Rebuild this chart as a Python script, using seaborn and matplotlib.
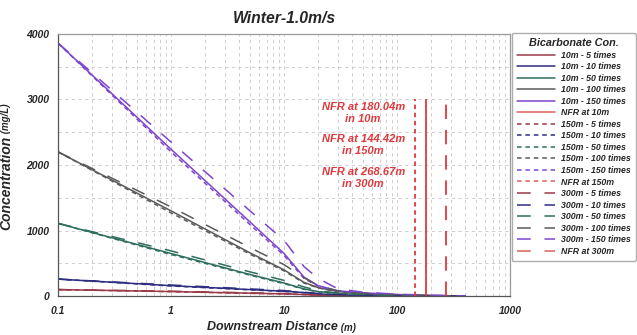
import numpy as np
import pandas as pd
import matplotlib
matplotlib.use("Agg")
import matplotlib.pyplot as plt
import seaborn as sns
from matplotlib.lines import Line2D
from matplotlib.ticker import FixedLocator, NullFormatter, LogLocator

# ---------------- data ----------------
distance = [0.1, 1, 5, 10, 15, 20, 30, 50, 100, 200, 400]

times_labels = ["5 times", "10 times", "50 times", "100 times", "150 times"]

# 10 m (solid)
c10_5 = [100, 70, 45, 35, 25, 15, 8, 5, 3, 2, 1]
c10_10 = [260, 160, 100, 75, 55, 35, 20, 12, 6, 3, 1]
c10_50 = [1110, 650, 330, 200, 110, 70, 40, 25, 12, 5, 2]
c10_100 = [2200, 1300, 660, 400, 210, 130, 70, 40, 20, 8, 3]
c10_150 = [3860, 2240, 1130, 650, 290, 160, 80, 50, 25, 10, 3]

# 150 m (short dashes)
c150_5 = [100, 68, 43, 33, 23, 14, 7, 5, 3, 2, 1]
c150_10 = [260, 155, 96, 72, 52, 33, 19, 11, 6, 3, 1]
c150_50 = [1110, 635, 320, 190, 105, 65, 38, 23, 11, 5, 2]
c150_100 = [2200, 1270, 640, 385, 200, 125, 65, 38, 19, 8, 3]
c150_150 = [3860, 2200, 1090, 620, 270, 150, 75, 45, 22, 9, 3]

# 300 m (long dashes)
c300_5 = [100, 75, 50, 40, 28, 17, 9, 5, 3, 2, 1]
c300_10 = [260, 170, 110, 85, 60, 40, 22, 13, 6, 3, 1]
c300_50 = [1110, 690, 370, 240, 140, 85, 45, 28, 13, 5, 2]
c300_100 = [2200, 1360, 740, 480, 280, 160, 80, 45, 22, 9, 3]
c300_150 = [3860, 2350, 1300, 850, 450, 270, 110, 60, 30, 12, 4]

nfr_distance = [180.04, 144.42, 268.67]   # 10m, 150m, 300m
nfr_top = 3000
nfr_labels = ["NFR at 180.04m\nin 10m", "NFR at 144.42m\nin 150m", "NFR at 268.67m\nin 300m"]
text_y = [2800, 2300, 1800]
text_x = 50

series = {
    "10m": [c10_5, c10_10, c10_50, c10_100, c10_150],
    "150m": [c150_5, c150_10, c150_50, c150_100, c150_150],
    "300m": [c300_5, c300_10, c300_50, c300_100, c300_150],
}

# ---------------- style ----------------
sns.set_style("white")
plt.rcParams["font.family"] = ["Liberation Sans", "DejaVu Sans"]
plt.rcParams["font.weight"] = "bold"
plt.rcParams["font.style"] = "italic"

colors = ["#9a3a48", "#2e2e80", "#2f6e5e", "#5a5a5a", "#7d45cc"]
nfr_color = "#e0383c"
styles = {"10m": "-", "150m": (0, (3, 2.5)), "300m": (0, (9, 9))}
nfr_styles = {"10m": "-", "150m": (0, (2.5, 2)), "300m": (0, (8, 6))}

fig = plt.figure(figsize=(6.37, 3.35), dpi=100)
ax = fig.add_axes([0.091, 0.116, 0.710, 0.783])

handles = {}
for grp, lst in series.items():
    hs = []
    for vals, col, lab in zip(lst, colors, times_labels):
        df = pd.DataFrame({"x": distance, "y": vals})
        sns.lineplot(data=df, x="x", y="y", ax=ax, color=col, linewidth=1.1,
                     linestyle=styles[grp], estimator=None, legend=False)
        hs.append(ax.lines[-1])
    handles[grp] = hs

nfr_handles = {}
for grp, xd in zip(["10m", "150m", "300m"], nfr_distance):
    ax.vlines(xd, 0, nfr_top, colors=nfr_color, linewidth=1.3,
              linestyles=[nfr_styles[grp]])
    nfr_handles[grp] = Line2D([], [], color="#d8605a", linewidth=1.1,
                              linestyle=styles[grp])

for lab, ty in zip(nfr_labels, text_y):
    ax.text(text_x, ty, lab, color=nfr_color, ha="center", va="center",
            fontsize=8, fontweight="bold", fontstyle="italic", linespacing=1.25)

ax.set_xscale("log")
ax.set_xlim(0.1, 1000)
ax.set_ylim(0, 4000)
ax.set_xticks([0.1, 1, 10, 100, 1000])
ax.set_xticklabels(["0.1", "1", "10", "100", "1000"])
ax.xaxis.set_minor_locator(LogLocator(base=10, subs=np.arange(2, 10)))
ax.xaxis.set_minor_formatter(NullFormatter())
ax.set_yticks([0, 1000, 2000, 3000, 4000])
ax.yaxis.set_minor_locator(FixedLocator([500, 1500, 2500, 3500]))
ax.tick_params(axis="both", which="major", labelsize=7.5, length=4,
               direction="inout", color="#666666")
ax.tick_params(axis="x", which="major", pad=5)
ax.tick_params(axis="y", which="major", pad=4)
ax.tick_params(axis="both", which="minor", length=3, direction="inout",
               color="#888888")
for lbl in ax.get_xticklabels() + ax.get_yticklabels():
    lbl.set_fontweight("bold")
    lbl.set_fontstyle("italic")

ax.grid(True, which="both", color="#c8c8c8", linestyle=(0, (4, 4)), linewidth=0.6)
for s in ax.spines.values():
    s.set_color("#9a9a9a")
    s.set_linewidth(0.9)
ax.spines["left"].set_color("#555555")
ax.spines["bottom"].set_color("#555555")

ax.set_title("Winter-1.0m/s", fontsize=11.3, fontweight="bold", fontstyle="italic",
             pad=8)
ylab = ax.set_ylabel("Concentration", fontsize=10, fontweight="bold",
                     fontstyle="italic")
xlab = ax.set_xlabel("Downstream Distance", fontsize=9, fontweight="bold",
                     fontstyle="italic")
ax.yaxis.set_label_coords(-0.099, 0.431)
ax.xaxis.set_label_coords(0.475, -0.095)
fig.canvas.draw()
ax.annotate(" (mg/L)", xy=(0.5, 1.0), xycoords=ylab, ha="center", va="bottom",
            rotation=90, fontsize=7, fontweight="bold", fontstyle="italic")
ax.annotate(" (m)", xy=(1.0, 0.45), xycoords=xlab, ha="left", va="center",
            fontsize=7, fontweight="bold", fontstyle="italic")

leg_h, leg_l = [], []
for grp in ["10m", "150m", "300m"]:
    for h, lab in zip(handles[grp], times_labels):
        leg_h.append(Line2D([], [], color=h.get_color(), linewidth=1.1,
                            linestyle=styles[grp]))
        leg_l.append(f"{grp} - {lab}")
    leg_h.append(nfr_handles[grp])
    leg_l.append(f"NFR at {grp}")

leg = fig.legend(leg_h, leg_l, loc="upper left", bbox_to_anchor=(0.803, 0.902),
                 borderaxespad=0, fontsize=6.3, title="Bicarbonate Con.",
                 title_fontproperties={"size": 7.8, "weight": "bold", "style": "italic"},
                 handlelength=4.4, handletextpad=0.6, labelspacing=0.29,
                 frameon=True, fancybox=True, edgecolor="#999999",
                 borderpad=0.6)
leg.get_frame().set_linewidth(1.0)

fig.savefig("out.png", dpi=100)
